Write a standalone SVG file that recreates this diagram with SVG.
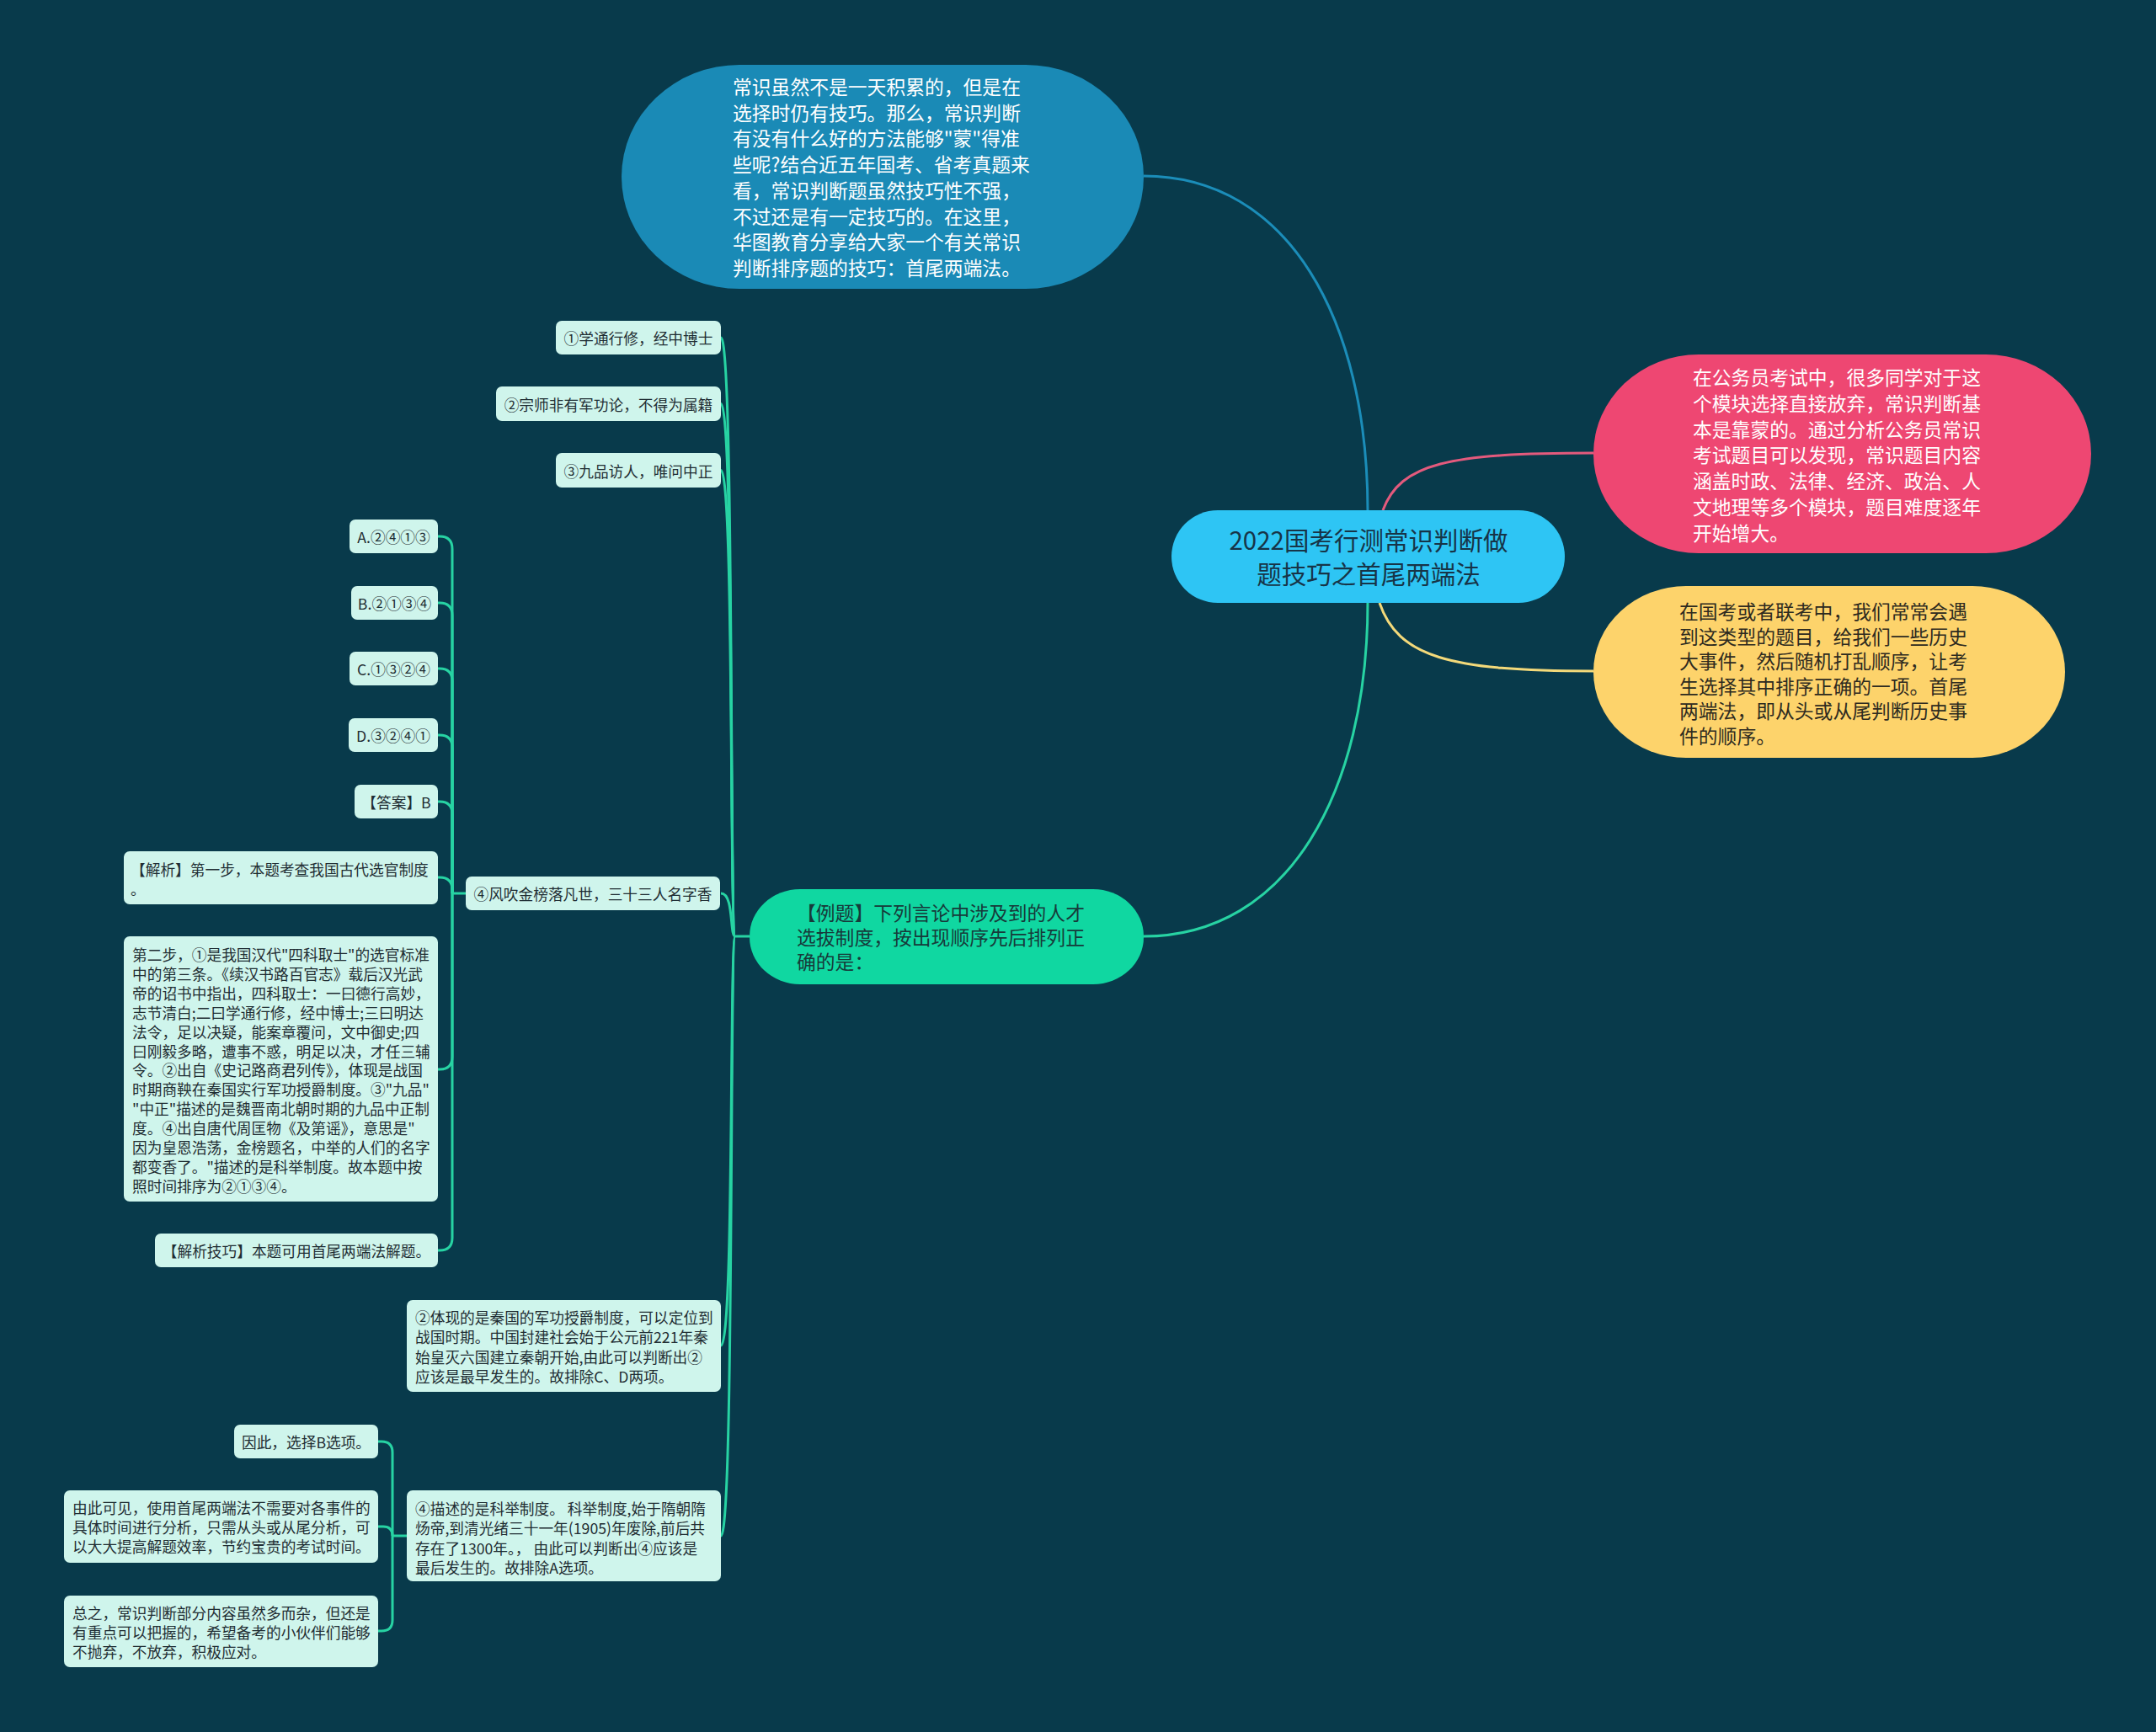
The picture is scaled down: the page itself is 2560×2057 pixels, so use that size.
<svg xmlns="http://www.w3.org/2000/svg" width="2560" height="2057" viewBox="0 0 2560 2057">
<style>
.t{font-family:"Noto Sans CJK SC","Noto Sans",sans-serif;dominant-baseline:central}
.s{font-size:17.7px;fill:#1f2d33}
.l{font-size:22.8px}
.box{fill:#cff5ec}
.cg{fill:none;stroke:#27d3a3;stroke-width:3}
.mid{text-anchor:middle}
</style>
<rect width="2560" height="2057" fill="#083a4b"/>
<g id="connectors">
<path d="M1624 607 C1624 380 1530 209 1358 209" fill="none" stroke="#1b8db9" stroke-width="3"/>
<path d="M1642 606 C1663 550 1720 538 1892 538" fill="none" stroke="#e45a7d" stroke-width="3"/>
<path d="M1638 716 C1660 780 1720 797 1892 797" fill="none" stroke="#f3d97a" stroke-width="3"/>
<path class="cg" d="M1624 715 C1624 940 1530 1112 1358 1112"/>
<path class="cg" d="M890 1112 H873"/>
<path class="cg" d="M873 1112 C866 1112 872 401 856 401"/>
<path class="cg" d="M873 1112 C866 1112 872 479.5 856 479.5"/>
<path class="cg" d="M873 1112 C866 1112 872 558.5 856 558.5"/>
<path class="cg" d="M873 1112 C866 1112 872 1061 856 1061"/>
<path class="cg" d="M873 1112 C866 1112 872 1598 856 1598"/>
<path class="cg" d="M873 1112 C866 1112 872 1824 856 1824"/>
<path class="cg" d="M553 1061 H537"/>
<path class="cg" d="M537 1061 V652 Q537 637 522 637 H520"/>
<path class="cg" d="M537 1061 V731 Q537 716 522 716 H520"/>
<path class="cg" d="M537 1061 V809 Q537 794 522 794 H520"/>
<path class="cg" d="M537 1061 V888 Q537 873 522 873 H520"/>
<path class="cg" d="M537 1061 V967 Q537 952 522 952 H520"/>
<path class="cg" d="M537 1061 V1057 Q537 1042 522 1042 H520"/>
<path class="cg" d="M537 1061 V1255 Q537 1270 522 1270 H520"/>
<path class="cg" d="M537 1061 V1470 Q537 1485 522 1485 H520"/>
<path class="cg" d="M483 1824 H466"/>
<path class="cg" d="M466 1824 V1725 Q466 1712 453 1712 H449"/>
<path class="cg" d="M466 1824 Q466 1813 455 1813 H449"/>
<path class="cg" d="M466 1824 V1924 Q466 1937 453 1937 H449"/>
</g>
<g id="root">
<rect x="1391" y="606" width="467" height="110" rx="55" fill="#2ec5f4"/>
<text class="t mid" font-size="29.5" fill="#173447"><tspan x="1625" y="640">2022国考行测常识判断做</tspan><tspan x="1625" y="680">题技巧之首尾两端法</tspan></text>
</g>
<g id="intro">
<rect x="738" y="77" width="620" height="266" rx="140" ry="133" fill="#1a8ab6"/>
<text class="t l" fill="#ffffff"><tspan x="870" y="102">常识虽然不是一天积累的，但是在</tspan><tspan x="870" y="132.7">选择时仍有技巧。那么，常识判断</tspan><tspan x="870" y="163.4">有没有什么好的方法能够"蒙"得准</tspan><tspan x="870" y="194.1">些呢?结合近五年国考、省考真题来</tspan><tspan x="870" y="224.8">看，常识判断题虽然技巧性不强，</tspan><tspan x="870" y="255.5">不过还是有一定技巧的。在这里，</tspan><tspan x="870" y="286.2">华图教育分享给大家一个有关常识</tspan><tspan x="870" y="316.9">判断排序题的技巧：首尾两端法。</tspan></text>
</g>
<g id="pink">
<rect x="1892" y="421" width="591" height="236" rx="125" ry="118" fill="#ee4772"/>
<text class="t l" fill="#ffffff"><tspan x="2010" y="447">在公务员考试中，很多同学对于这</tspan><tspan x="2010" y="477.8">个模块选择直接放弃，常识判断基</tspan><tspan x="2010" y="508.6">本是靠蒙的。通过分析公务员常识</tspan><tspan x="2010" y="539.4">考试题目可以发现，常识题目内容</tspan><tspan x="2010" y="570.2">涵盖时政、法律、经济、政治、人</tspan><tspan x="2010" y="601">文地理等多个模块，题目难度逐年</tspan><tspan x="2010" y="631.8">开始增大。</tspan></text>
</g>
<g id="yellow">
<rect x="1892" y="696" width="560" height="204" rx="110" ry="102" fill="#fdd36b"/>
<text class="t l" fill="#2d2a1f"><tspan x="1994" y="725">在国考或者联考中，我们常常会遇</tspan><tspan x="1994" y="754.6">到这类型的题目，给我们一些历史</tspan><tspan x="1994" y="784.2">大事件，然后随机打乱顺序，让考</tspan><tspan x="1994" y="813.8">生选择其中排序正确的一项。首尾</tspan><tspan x="1994" y="843.4">两端法，即从头或从尾判断历史事</tspan><tspan x="1994" y="873">件的顺序。</tspan></text>
</g>
<g id="example">
<rect x="890" y="1056" width="468" height="113" rx="60" ry="56" fill="#10d7a1"/>
<text class="t l" fill="#173a3a"><tspan x="946" y="1083">【例题】下列言论中涉及到的人才</tspan><tspan x="946" y="1112">选拔制度，按出现顺序先后排列正</tspan><tspan x="946" y="1141">确的是：</tspan></text>
</g>
<g id="q1">
<rect class="box" x="660" y="381" width="196" height="40" rx="7"/>
<text class="t s mid" x="758" y="401">①学通行修，经中博士</text>
</g>
<g id="q2">
<rect class="box" x="589" y="459" width="267" height="41" rx="7"/>
<text class="t s mid" x="722.5" y="479.5">②宗师非有军功论，不得为属籍</text>
</g>
<g id="q3">
<rect class="box" x="660" y="538" width="196" height="41" rx="7"/>
<text class="t s mid" x="758" y="558.5">③九品访人，唯问中正</text>
</g>
<g id="q4">
<rect class="box" x="553" y="1041" width="302" height="40" rx="7"/>
<text class="t s mid" x="704" y="1061">④风吹金榜落凡世，三十三人名字香</text>
</g>
<g id="optA">
<rect class="box" x="415" y="617" width="105" height="40" rx="7"/>
<text class="t s mid" x="467.5" y="637">A.②④①③</text>
</g>
<g id="optB">
<rect class="box" x="417" y="696" width="103" height="40" rx="7"/>
<text class="t s mid" x="468.5" y="716">B.②①③④</text>
</g>
<g id="optC">
<rect class="box" x="415" y="774" width="105" height="40" rx="7"/>
<text class="t s mid" x="467.5" y="794">C.①③②④</text>
</g>
<g id="optD">
<rect class="box" x="414" y="853" width="106" height="40" rx="7"/>
<text class="t s mid" x="467" y="873">D.③②④①</text>
</g>
<g id="answer">
<rect class="box" x="421" y="932" width="99" height="40" rx="7"/>
<text class="t s mid" x="470.5" y="952">【答案】B</text>
</g>
<g id="analysis1">
<rect class="box" x="147" y="1011" width="373" height="63" rx="7"/>
<text class="t s"><tspan x="155" y="1032">【解析】第一步，本题考查我国古代选官制度</tspan><tspan x="155" y="1055">。</tspan></text>
</g>
<g id="analysis2">
<rect class="box" x="147" y="1112" width="373" height="315" rx="7"/>
<text class="t s"><tspan x="157" y="1133">第二步，①是我国汉代"四科取士"的选官标准</tspan><tspan x="157" y="1155.9">中的第三条。《续汉书路百官志》载后汉光武</tspan><tspan x="157" y="1178.8">帝的诏书中指出，四科取士：一曰德行高妙，</tspan><tspan x="157" y="1201.7">志节清白;二曰学通行修，经中博士;三曰明达</tspan><tspan x="157" y="1224.6">法令，足以决疑，能案章覆问，文中御史;四</tspan><tspan x="157" y="1247.5">曰刚毅多略，遭事不惑，明足以决，才任三辅</tspan><tspan x="157" y="1270.4">令。②出自《史记路商君列传》，体现是战国</tspan><tspan x="157" y="1293.3">时期商鞅在秦国实行军功授爵制度。③"九品"</tspan><tspan x="157" y="1316.2">"中正"描述的是魏晋南北朝时期的九品中正制</tspan><tspan x="157" y="1339.1">度。④出自唐代周匡物《及第谣》，意思是"</tspan><tspan x="157" y="1362">因为皇恩浩荡，金榜题名，中举的人们的名字</tspan><tspan x="157" y="1384.9">都变香了。"描述的是科举制度。故本题中按</tspan><tspan x="157" y="1407.8">照时间排序为②①③④。</tspan></text>
</g>
<g id="tip">
<rect class="box" x="184" y="1465" width="336" height="40" rx="7"/>
<text class="t s mid" x="352" y="1485">【解析技巧】本题可用首尾两端法解题。</text>
</g>
<g id="q5">
<rect class="box" x="483" y="1544" width="373" height="109" rx="7"/>
<text class="t s"><tspan x="493" y="1564">②体现的是秦国的军功授爵制度，可以定位到</tspan><tspan x="493" y="1587.3">战国时期。中国封建社会始于公元前221年秦</tspan><tspan x="493" y="1610.6">始皇灭六国建立秦朝开始,由此可以判断出②</tspan><tspan x="493" y="1633.9">应该是最早发生的。故排除C、D两项。</tspan></text>
</g>
<g id="q6">
<rect class="box" x="483" y="1770" width="373" height="108" rx="7"/>
<text class="t s"><tspan x="493" y="1791">④描述的是科举制度。 科举制度,始于隋朝隋</tspan><tspan x="493" y="1814.3">炀帝,到清光绪三十一年(1905)年废除,前后共</tspan><tspan x="493" y="1837.6">存在了1300年。， 由此可以判断出④应该是</tspan><tspan x="493" y="1860.9">最后发生的。故排除A选项。</tspan></text>
</g>
<g id="conclusion1">
<rect class="box" x="278" y="1692" width="171" height="40" rx="7"/>
<text class="t s mid" x="363.5" y="1712">因此，选择B选项。</text>
</g>
<g id="conclusion2">
<rect class="box" x="76" y="1770" width="373" height="86" rx="7"/>
<text class="t s"><tspan x="86" y="1790">由此可见，使用首尾两端法不需要对各事件的</tspan><tspan x="86" y="1813">具体时间进行分析，只需从头或从尾分析，可</tspan><tspan x="86" y="1836">以大大提高解题效率，节约宝贵的考试时间。</tspan></text>
</g>
<g id="conclusion3">
<rect class="box" x="76" y="1895" width="373" height="85" rx="7"/>
<text class="t s"><tspan x="86" y="1915">总之，常识判断部分内容虽然多而杂，但还是</tspan><tspan x="86" y="1938">有重点可以把握的，希望备考的小伙伴们能够</tspan><tspan x="86" y="1961">不抛弃，不放弃，积极应对。</tspan></text>
</g>
</svg>
